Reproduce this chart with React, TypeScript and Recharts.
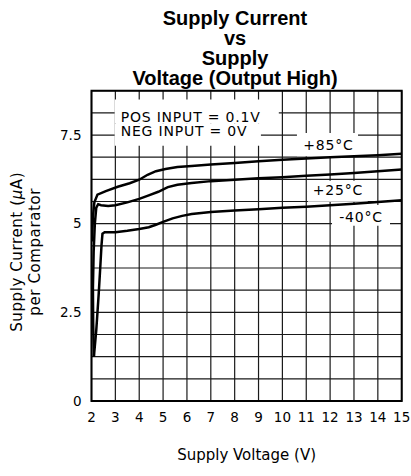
import React from 'react';
import { LineChart, Line, XAxis, YAxis, CartesianGrid, ReferenceArea } from 'recharts';

// ---- data ----
const xTicks = [2, 3, 4, 5, 6, 7, 8, 9, 10, 11, 12, 13, 14, 15];
const yGridTicks = [0, 0.625, 1.25, 1.875, 2.5, 3.125, 3.75, 4.375, 5, 5.625, 6.25, 6.875, 7.5, 8.125, 8.75];
const yTickLabels = [0, 2.5, 5, 7.5];

const voltsP85 = [2.02, 2.06, 2.12, 2.25, 2.6, 3.1, 3.6, 4.0, 4.35, 4.7, 5.1, 5.6, 6.2, 7, 8, 9, 10, 11, 12, 13, 14, 15];
const currP85 = [4.5, 5.2, 5.6, 5.82, 5.92, 6.04, 6.14, 6.24, 6.38, 6.48, 6.54, 6.6, 6.63, 6.67, 6.71, 6.76, 6.8, 6.84, 6.87, 6.9, 6.93, 6.97];

const voltsP25 = [2.1, 2.07, 2.06, 2.09, 2.14, 2.2, 2.28, 2.4, 2.7, 3.0, 3.5, 4.0, 4.4, 4.8, 5.2, 5.6, 6.2, 7, 8, 9, 10, 11, 12, 13, 14, 15];
const currP25 = [1.25, 2.2, 3.2, 4.2, 5.0, 5.45, 5.55, 5.52, 5.5, 5.52, 5.6, 5.7, 5.8, 5.9, 6.03, 6.1, 6.15, 6.2, 6.24, 6.28, 6.31, 6.35, 6.39, 6.43, 6.48, 6.53];

const voltsM40 = [2.1, 2.2, 2.3, 2.37, 2.42, 2.46, 2.55, 3.0, 3.5, 4.0, 4.4, 4.7, 5.0, 5.4, 5.8, 6.2, 7, 8, 9, 10, 11, 12, 13, 14, 15];
const currM40 = [1.25, 2.0, 3.0, 3.8, 4.4, 4.72, 4.76, 4.76, 4.8, 4.85, 4.9, 4.97, 5.05, 5.15, 5.22, 5.27, 5.33, 5.37, 5.41, 5.45, 5.48, 5.52, 5.56, 5.61, 5.66];

const titleLines = ['Supply Current', 'vs', 'Supply', 'Voltage (Output High)'];
const noteLines = ['POS  INPUT = 0.1V', 'NEG  INPUT = 0V'];
const seriesLabels = ['+85°C', '+25°C', '-40°C'];

const toPoints = (xs: number[], ys: number[]) => xs.map((v, i) => ({ v, i: ys[i] }));
const p85 = toPoints(voltsP85, currP85);
const p25 = toPoints(voltsP25, currP25);
const m40 = toPoints(voltsM40, currM40);

const FONT = "'DejaVu Sans', sans-serif";

const BoxText = (props: any) => {
  const { viewBox, text, dx, dy, anchor } = props;
  if (!viewBox) return null;
  const x = anchor === 'middle' ? viewBox.x + viewBox.width / 2 + (dx || 0) : viewBox.x + dx;
  return (
    <text x={x} y={viewBox.y + dy} textAnchor={anchor || 'start'} fontFamily={FONT} fontSize={14} letterSpacing={0.8} fill="#000">
      {text}
    </text>
  );
};

const YTitle = (props: any) => {
  const { viewBox } = props;
  if (!viewBox) return null;
  const cy = viewBox.y + viewBox.height / 2 + 6;
  return (
    <g fontFamily={FONT} fontSize={15} fill="#000" letterSpacing={0.6}>
      <text x={22} y={cy} textAnchor="middle" transform={`rotate(-90 22 ${cy})`}>
        Supply Current (<tspan fontStyle="italic">μ</tspan>A)
      </text>
      <text x={40} y={cy} textAnchor="middle" transform={`rotate(-90 40 ${cy})`}>
        per Comparator
      </text>
    </g>
  );
};

const XTitle = (props: any) => {
  const { viewBox } = props;
  if (!viewBox) return null;
  return (
    <text x={viewBox.x + viewBox.width / 2} y={viewBox.y + 59} textAnchor="middle" fontFamily={FONT} fontSize={15} fill="#000">
      Supply Voltage (V)
    </text>
  );
};

export default function App() {
  return (
    <div style={{ position: 'absolute', left: 0, top: 0, width: 411, height: 476, background: '#fff' }}>
      <div
        style={{
          position: 'absolute',
          left: 0,
          top: 7.6,
          width: 470,
          textAlign: 'center',
          fontFamily: "'Liberation Sans', Arial, sans-serif",
          fontWeight: 'bold',
          fontSize: 20,
          lineHeight: '20px',
          color: '#000',
          zIndex: 2,
        }}
      >
        {titleLines.map((t) => (
          <div key={t}>{t}</div>
        ))}
      </div>
      <LineChart width={411} height={476} margin={{ top: 90.7, right: 9.3, left: 0, bottom: 0 }}>
        <CartesianGrid stroke="#1a1a1a" strokeWidth={1.2} />
        <XAxis
          dataKey="v"
          type="number"
          domain={[2, 15]}
          ticks={xTicks}
          interval={0}
          allowDataOverflow
          axisLine={false}
          tickLine={false}
          tickSize={6}
          tickMargin={5}
          height={75}
          tick={{ fontFamily: FONT, fontSize: 13.5, fill: '#000' }}
          label={<XTitle />}
        />
        <YAxis
          type="number"
          domain={[0, 8.75]}
          ticks={yGridTicks}
          interval={0}
          allowDataOverflow
          axisLine={false}
          tickLine={false}
          tickSize={6}
          tickMargin={4}
          width={91.5}
          tickFormatter={(v: number) => (yTickLabels.includes(v) ? String(v) : '')}
          tick={{ fontFamily: FONT, fontSize: 13.5, fill: '#000' }}
          label={<YTitle />}
        />
        <ReferenceArea x1={2.97} x2={9.85} y1={7.82} y2={8.5} fill="#fff" fillOpacity={1} stroke="none"
          label={<BoxText text={noteLines[0]} dx={6} dy={22.2} />} />
        <ReferenceArea x1={2.97} x2={9.1} y1={7.2} y2={7.82} fill="#fff" fillOpacity={1} stroke="none"
          label={<BoxText text={noteLines[1]} dx={6} dy={12.6} />} />
        <ReferenceArea x1={10.61} x2={13.17} y1={6.9} y2={7.56} fill="#fff" fillOpacity={1} stroke="none"
          label={<BoxText text={seriesLabels[0]} anchor="middle" dx={1} dy={17} />} />
        <ReferenceArea x1={11.07} x2={13.58} y1={5.62} y2={6.21} fill="#fff" fillOpacity={1} stroke="none"
          label={<BoxText text={seriesLabels[1]} anchor="middle" dx={0} dy={14} />} />
        <ReferenceArea x1={12.08} x2={14.51} y1={4.94} y2={5.53} fill="#fff" fillOpacity={1} stroke="none"
          label={<BoxText text={seriesLabels[2]} anchor="middle" dx={0} dy={17} />} />
        <Line data={p85} dataKey="i" type="linear" stroke="#000" strokeWidth={2.5} dot={false} isAnimationActive={false} />
        <Line data={p25} dataKey="i" type="linear" stroke="#000" strokeWidth={2.5} dot={false} isAnimationActive={false} />
        <Line data={m40} dataKey="i" type="linear" stroke="#000" strokeWidth={2.5} dot={false} isAnimationActive={false} />
        <ReferenceArea x1={2} x2={15} y1={0} y2={8.75} fill="none" stroke="#000" strokeWidth={2} />
      </LineChart>
    </div>
  );
}
